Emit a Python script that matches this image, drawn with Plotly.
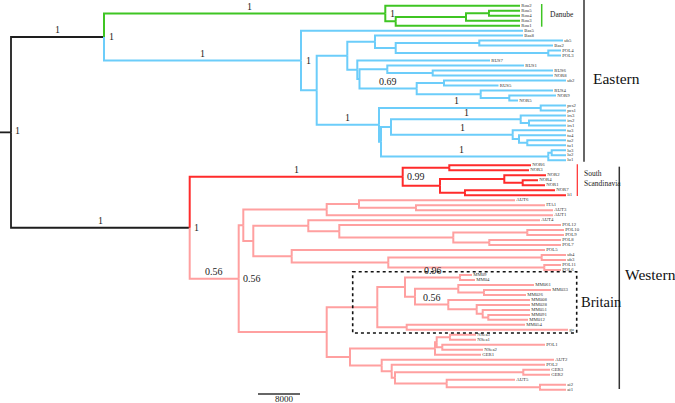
import plotly.graph_objects as go

# ---------------- data ----------------
# tips (leaves) and their depth from the root (tree units, scale bar: 42 units = 8000)
LEAF_NAMES = [
    "Rou2", "Rou5", "Rou4", "Rou3", "Rou1",
    "Bas5", "Bas8", "ub5", "Bas2", "POL4", "POL3", "RUS7", "RUS1", "RUS6", "NOR8",
    "ub2", "RUS5", "RUS4", "NOR9", "NOR5", "pcs2", "pcs1", "irs3", "irs2", "irs1",
    "tu3", "tu4", "tu2", "tu1", "lu3", "lu2", "lu1",
    "NOR6", "NOR3", "NOR2", "NOR4", "NOR1", "NOR7", "li1",
    "AUT6", "ITA1", "AUT3", "AUT1", "AUT4", "POL12", "POL10", "POL9", "POL8", "POL7",
    "POL5", "ub4", "ub3", "POL11", "POL6",
    "MM09", "MM04", "MM061", "MM033", "MM026", "MM008", "MM028", "MM051", "MM091",
    "MM012", "MM054", "gu",
    "NSea3", "NSea1", "POL1", "NSea2", "GER1", "AUT2", "POL2", "GER3", "GER2", "AUT5",
    "ai2", "ai1",
]
LEAF_DEPTH = [
    509, 509, 509, 509, 509,
    512, 512, 552, 542, 550, 550, 479, 513, 542, 542,
    555, 487.5, 542, 545, 507, 555, 555, 555, 555, 555,
    555, 555, 555, 555, 555, 555, 555,
    520, 518, 535, 527, 534, 544, 555,
    504, 534, 542, 542, 529, 550, 553, 553, 550, 550,
    534, 555, 555, 550, 550,
    461, 464, 523, 540, 515, 519, 519, 519, 519,
    517, 514, 557,
    465, 465, 534, 472, 470, 543, 534, 539, 539, 504,
    555, 555,
]

# internal nodes: depth from root and children (top to bottom)
NODE_NAMES = [
    "root", "A", "G", "G2", "G3", "G4",
    "E", "E1", "E2", "E5", "E7", "N1", "N2", "E6", "E6b", "E8", "N3", "E9", "N5", "N6", "N7",
    "E3", "PCS", "E3b", "E4", "IRS", "IRSb", "TU", "TUb", "TUc", "LU", "LUb",
    "B", "R", "R1", "R2", "R3", "R5", "R4",
    "W", "W1", "W8", "W7", "W7b", "W4", "W11", "W10", "W9", "W9a", "W9b", "W6", "W12",
    "W12a", "W12b",
    "W2", "Bj", "Bh", "Bg", "Bf", "Be", "Be2", "Ba", "Bb", "Bc", "Bd", "Bi",
    "W13", "Nn4", "Nn3", "Nn1", "Nn2", "W14", "W15", "W16", "GERn", "W17", "AIn",
]
NODE_DEPTH = [
    0, 93, 374.3, 384.7, 455, 478,
    290, 305.7, 336.3, 364, 384.7, 468.3, 537.3, 346.3, 348.5, 376.3, 421.7, 405.7, 433, 469.7, 498.3,
    368, 529.7, 370, 380, 509.7, 518, 501.7, 508, 516.3, 537.3, 540.7,
    178.7, 391.7, 438.3, 429, 493.3, 511.7, 454,
    227.7, 232.3, 315.7, 348, 405, 242.3, 297.3, 328.3, 442.3, 516.3, 478.3, 280.7, 377.3,
    530.7, 533.3,
    315.7, 366.3, 394, 449, 404, 447.3, 473, 437.3, 465.7, 471.7, 477.3, 395.7,
    339, 424, 425.7, 439, 431.3, 370.7, 380.7, 384, 512.3, 435.7, 529,
]
NODE_CHILDREN = [
    ["A", "B"], ["G", "E"], ["Rou2", "G2"], ["G3", "Rou1"], ["G4", "Rou3"], ["Rou5", "Rou4"],
    ["Bas5", "E1"], ["E2", "E3"], ["E5", "E6"], ["Bas8", "E7"], ["N1", "N2"], ["ub5", "Bas2"],
    ["POL4", "POL3"], ["RUS7", "E6b"], ["E8", "E9"], ["RUS1", "N3"], ["RUS6", "NOR8"],
    ["N5", "N6"], ["ub2", "RUS5"], ["RUS4", "N7"], ["NOR9", "NOR5"],
    ["PCS", "E3b"], ["pcs2", "pcs1"], ["E4", "LU"], ["IRS", "TU"], ["irs3", "IRSb"],
    ["irs2", "irs1"], ["tu3", "TUb"], ["tu4", "TUc"], ["tu2", "tu1"], ["LUb", "lu1"],
    ["lu3", "lu2"],
    ["R", "W"], ["R1", "R2"], ["NOR6", "NOR3"], ["R3", "R4"], ["NOR2", "R5"], ["NOR4", "NOR1"],
    ["NOR7", "li1"],
    ["W1", "W2"], ["W8", "W4"], ["W7", "AUT1"], ["AUT6", "W7b"], ["ITA1", "AUT3"],
    ["W11", "W6"], ["AUT4", "W10"], ["POL12", "W9"], ["W9a", "W9b"], ["POL10", "POL9"],
    ["POL8", "POL7"], ["POL5", "W12"], ["W12a", "W12b"], ["ub4", "ub3"], ["POL11", "POL6"],
    ["Bj", "W13"], ["Bh", "Bi"], ["Bg", "Bf"], ["MM09", "MM04"], ["Be", "Ba"],
    ["MM061", "Be2"], ["MM033", "MM026"], ["MM008", "Bb"], ["MM028", "Bc"], ["MM051", "Bd"],
    ["MM091", "MM012"], ["MM054", "gu"],
    ["Nn4", "W14"], ["Nn3", "GER1"], ["Nn1", "Nn2"], ["NSea3", "NSea1"], ["POL1", "NSea2"],
    ["AUT2", "W15"], ["POL2", "W16"], ["GERn", "W17"], ["GER3", "GER2"], ["AUT5", "AIn"],
    ["ai2", "ai1"],
]

# posterior support: at node (text right of node) and on branch (text above branch)
SUPPORT_AT_NODE = [("root", "1"), ("A", "1"), ("G", "1"), ("E", "1"), ("B", "1"),
                   ("R", "0.99"), ("W", "0.56")]
SUPPORT_ON_BRANCH = [("A", "1"), ("G", "1"), ("E", "1"), ("B", "1"), ("R", "1"),
                     ("W", "0.56"), ("E3", "1"), ("PCS", "1"), ("IRS", "1"), ("TU", "1"),
                     ("LU", "1"), ("E9", "0.69"), ("Bg", "0.96"), ("Ba", "0.56")]

SCALE_LABEL = "8000"
SCALE_LEN = 42

# ---------------- styles ----------------
BLACK = "#1e1e1e"
CLADE_COLORS = {"G": "#3fc523", "E": "#6ccdfa", "R": "#ff2b2b", "W": "#ffa0a0"}
FONT = "Liberation Serif"
BRANCH_DX = {"G": 5, "IRS": 11, "TU": 11, "PCS": -3, "LU": -3}

# ---------------- layout of the tree ----------------
depth = dict(zip(LEAF_NAMES, LEAF_DEPTH))
depth.update(zip(NODE_NAMES, NODE_DEPTH))
children = dict(zip(NODE_NAMES, NODE_CHILDREN))
ypos, order, parent, color = {}, [], {}, {}


def place(n):
    if n not in children:
        ypos[n] = len(order)
        order.append(n)
        return ypos[n]
    ys = []
    for c in children[n]:
        parent[c] = n
        ys.append(place(c))
    ypos[n] = (min(ys) + max(ys)) / 2
    return ypos[n]


place("root")


def paint(n, col):
    col = CLADE_COLORS.get(n, col)
    color[n] = col
    for c in children.get(n, []):
        paint(c, col)


paint("root", BLACK)

segs = {}
for p, kids in children.items():
    for c in kids:
        xs, ys = segs.setdefault(color[c], ([], []))
        xs += [depth[p], depth[p], depth[c], None]
        ys += [ypos[p], ypos[c], ypos[c], None]

fig = go.Figure()
# root stub
fig.add_trace(go.Scatter(x=[-11, 0], y=[ypos["root"]] * 2, mode="lines",
                         line=dict(color=BLACK, width=1.8), hoverinfo="skip"))
for col in [BLACK, CLADE_COLORS["G"], CLADE_COLORS["E"], CLADE_COLORS["W"], CLADE_COLORS["R"]]:
    xs, ys = segs[col]
    fig.add_trace(go.Scatter(x=xs, y=ys, mode="lines",
                             line=dict(color=col, width=2 if col != BLACK else 1.8),
                             hoverinfo="skip"))

# tip labels
fig.add_trace(go.Scatter(x=[depth[n] + 1.2 for n in order], y=[ypos[n] for n in order],
                         text=order, mode="text", textposition="middle right",
                         textfont=dict(family=FONT, size=4.8, color="#333333"),
                         cliponaxis=False, hoverinfo="skip"))

ann = []
for n, v in SUPPORT_AT_NODE:
    ann.append(dict(x=depth[n] + (1.5 if n == "root" else 2.5), y=ypos[n],
                    yshift=2 if n == "root" else 0, text=v, xanchor="left", yanchor="middle",
                    showarrow=False, font=dict(family=FONT, size=10, color="#222")))
for n, v in SUPPORT_ON_BRANCH:
    xm = (depth[parent[n]] + depth[n]) / 2 + BRANCH_DX.get(n, 0)
    ann.append(dict(x=xm, y=ypos[n], yshift=7, text=v, xanchor="center", yanchor="middle",
                    showarrow=False, font=dict(family=FONT, size=10, color="#222")))

# clade labels
ann += [
    dict(x=537, y=1.8, text="Danube", xanchor="left", yanchor="middle", showarrow=False,
         font=dict(family=FONT, size=7.5, color="#222")),
    dict(x=579.5, y=14.6, text="Eastern", xanchor="left", yanchor="middle", showarrow=False,
         font=dict(family=FONT, size=15.5, color="#111")),
    dict(x=570.7, y=34.65, text="South<br>Scandinavia", xanchor="left", yanchor="middle",
         align="left", showarrow=False, font=dict(family=FONT, size=7.5, color="#222")),
    dict(x=611.5, y=54, text="Western", xanchor="left", yanchor="middle", showarrow=False,
         font=dict(family=FONT, size=15.5, color="#111")),
    dict(x=567.5, y=59.35, text="Britain", xanchor="left", yanchor="middle", showarrow=False,
         font=dict(family=FONT, size=14.5, color="#111")),
    dict(x=247 + SCALE_LEN * 0.62, y=78.95, text=SCALE_LABEL, xanchor="center",
         yanchor="middle", showarrow=False, font=dict(family=FONT, size=9, color="#222")),
]

shapes = [
    dict(type="line", x0=530.7, x1=530.7, y0=-0.34, y1=4.21, line=dict(color=CLADE_COLORS["G"], width=1.5)),
    dict(type="line", x0=573, x1=573, y0=-1.2, y1=31.28, line=dict(color="#333", width=1.5)),
    dict(type="line", x0=566.3, x1=566.3, y0=31.8, y1=38.16, line=dict(color=CLADE_COLORS["R"], width=1.2)),
    dict(type="line", x0=608.3, x1=608.3, y0=32.28, y1=76.86, line=dict(color="#333", width=1.5)),
    dict(type="rect", x0=341.7, x1=565.7, y0=53.35, y1=65.63,
         line=dict(color="#111", width=1.6, dash="dot")),
    dict(type="line", x0=247, x1=247 + SCALE_LEN, y0=77.87, y1=77.87, line=dict(color="#333", width=1.3)),
]

fig.update_layout(
    width=675, height=403, margin=dict(l=0, r=0, t=0, b=0),
    paper_bgcolor="white", plot_bgcolor="white", showlegend=False,
    xaxis=dict(range=[-11, 664], visible=False, fixedrange=True),
    yaxis=dict(range=[79.67, -1.143], visible=False, fixedrange=True),
    annotations=ann, shapes=shapes,
)
fig.write_html("out.html", config={"displayModeBar": False},
               post_script="document.body.style.margin='0';document.body.style.overflow='hidden';")
